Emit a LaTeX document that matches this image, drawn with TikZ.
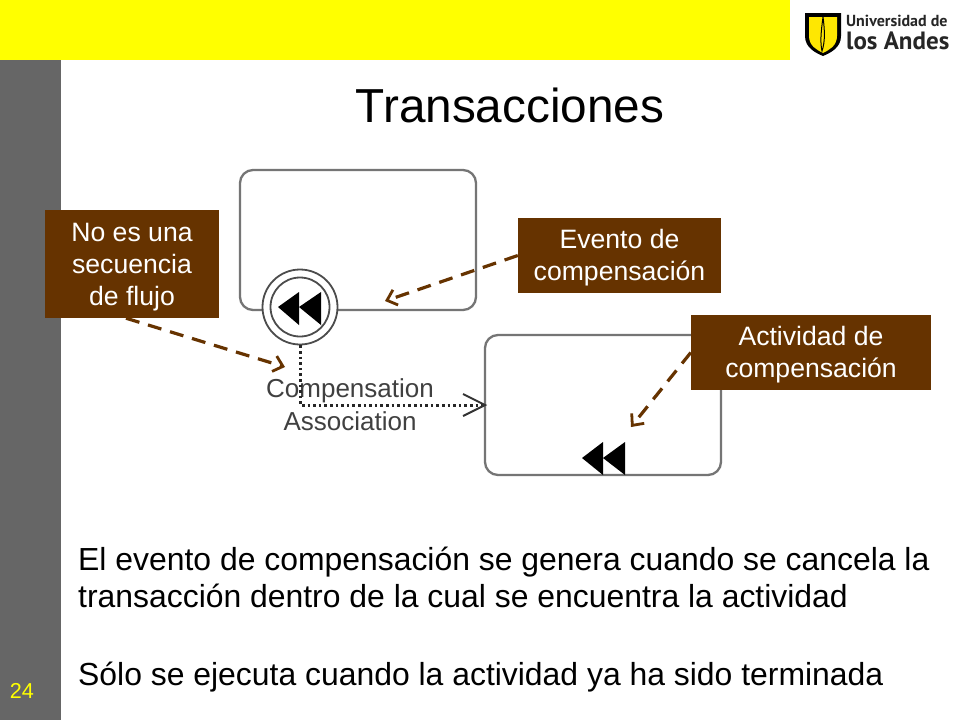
\documentclass[tikz,border=0pt]{standalone}
\usepackage{fontspec}
\setmainfont{Liberation Sans}
\newfontfamily\logofont{PT Sans}
\usetikzlibrary{arrows.meta}
\definecolor{brownbox}{HTML}{663300}
\definecolor{sidegray}{HTML}{666666}
\definecolor{topyellow}{HTML}{FFFF00}
\definecolor{linegray}{HTML}{757575}
\definecolor{labelgray}{HTML}{404040}
\newcommand{\fs}[1]{\fontsize{#1}{#1}\selectfont}
\newcommand{\cstrut}{\rule{0pt}{24pt}}
\tikzset{
  callout/.style={fill=brownbox,text=white,inner sep=0pt,align=center,font=\fontsize{26.6}{32}\selectfont},
  taskbox/.style={draw=linegray,line width=2.3pt,rounded corners=13pt,fill=white},
  pointer/.style={draw=brownbox,line width=3.2pt,dash pattern=on 14pt off 9pt,-{Straight Barb[length=9pt,width=16pt,line width=2.8pt]}},
  assoc/.style={draw=black!85,line width=3pt,dash pattern=on 2.6pt off 3pt},
  bodytext/.style={anchor=base west,inner sep=0pt,font=\fs{31.9}},
  tri/.style={fill=black,draw=none}
}
\begin{document}
\begin{tikzpicture}[x=1pt,y=-1pt]
\useasboundingbox (0,0) rectangle (960,720);
\fill[white] (0,0) rectangle (960,720);
\fill[topyellow] (0,0) rectangle (790,60);
\fill[sidegray] (0,60) rectangle (61,720);
\node[anchor=base,inner sep=0pt,font=\fs{21.6},text=topyellow] (pagenum) at (22,698) {24};
% logo
\fill[black] (805,13) -- (841,13) -- (841,36) .. controls (841,48) and (830,53) .. (823,56) .. controls (816,53) and (805,48) .. (805,36) -- cycle;
\fill[yellow!90!orange] (809,17) -- (837,17) -- (837,36) .. controls (837,46) and (829,50) .. (823,53) .. controls (817,50) and (809,46) .. (809,36) -- cycle;
\draw[black,line width=1pt] (823,17) .. controls (821,32) and (820,42) .. (822,51) .. controls (825,42) and (825,32) .. (823,17);
\node[anchor=base west,inner sep=0pt,font=\logofont\fs{16}\bfseries,text=black!85] (logoa) at (846,26) {Universidad de};
\node[anchor=base west,inner sep=0pt,font=\logofont\fs{25}\bfseries,text=black!85] (logob) at (846,49) {los Andes};
% title
\node[anchor=base,inner sep=0pt,font=\fs{47.7}] (title) at (510,122) {Transacciones};
% diagram
\node[taskbox,minimum width=236pt,minimum height=140pt,inner sep=0pt] (task1) at (358,240) {};
\node[taskbox,minimum width=236pt,minimum height=140pt,inner sep=0pt] (task2) at (603,405) {};
\node[circle,draw=black!70,fill=white,line width=1.8pt,minimum size=75pt,inner sep=0pt] (evt) at (300,307) {};
\node[circle,draw=black!70,line width=1.8pt,minimum size=59pt,inner sep=0pt] (evtin) at (300,307) {};
\fill[tri] (278,307) -- (299,292) -- (299,325) -- cycle;
\fill[tri] (299,307) -- (321,292) -- (321,325) -- cycle;
\fill[tri] (582,458) -- (603,442) -- (603,475) -- cycle;
\fill[tri] (603,458) -- (625,442) -- (625,475) -- cycle;
\node[anchor=center,inner sep=0pt,font=\fs{26},text=labelgray,align=center] (lab1) at (350,391) {Compensation};
\node[anchor=center,inner sep=0pt,font=\fs{26},text=labelgray,align=center] (lab2) at (350,421) {Association};
\coordinate (bend) at (300,405);
\draw[assoc] (evt.south) -- (bend) -- (task2.west);
\draw[line width=2pt,draw=black!80] (463,394) -- (485,405) -- (463,416);
% callouts
\node[callout,minimum width=174pt,minimum height=108pt] (c1) at (132,264) {\cstrut No es una\\secuencia\\de flujo};
\node[callout,minimum width=203pt,minimum height=75pt] (c2) at (619.5,255.5) {\cstrut Evento de\\compensación};
\node[callout,minimum width=240pt,minimum height=75pt] (c3) at (811,352.5) {\cstrut Actividad de\\compensación};
\coordinate (p1) at (285,367);
\coordinate (p2) at (385,301);
\coordinate (p3) at (631,427);
\draw[pointer] (c1.south) ++(-6,0) -- (p1);
\draw[pointer] (c2.west) -- (p2);
\draw[pointer] (c3.west) -- (p3);
% body
\node[bodytext] (b1) at (78,570) {El evento de compensación se genera cuando se cancela la};
\node[bodytext] (b2) at (78,607) {transacción dentro de la cual se encuentra la actividad};
\node[bodytext] (b3) at (78,685) {Sólo se ejecuta cuando la actividad ya ha sido terminada};
\end{tikzpicture}
\end{document}
